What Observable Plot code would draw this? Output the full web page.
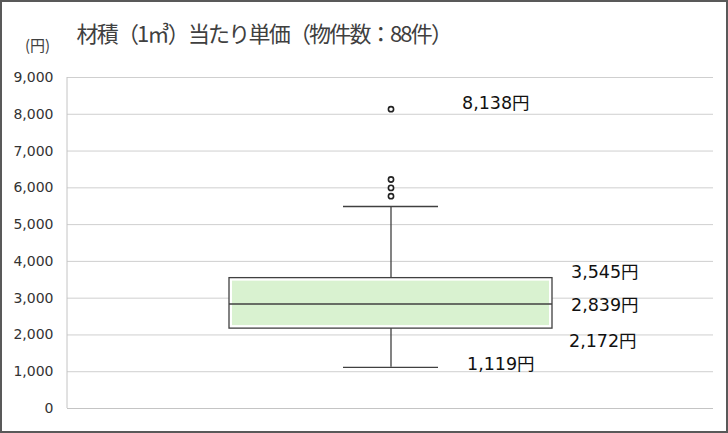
<!DOCTYPE html>
<html>
<head>
<meta charset="utf-8">
<script src="https://cdn.jsdelivr.net/npm/d3@7"></script>
<script src="https://cdn.jsdelivr.net/npm/@observablehq/plot@0.6"></script>
<style>
  body { margin: 0; background: #fff; }
  #chart svg { outline: 2px solid #595959; outline-offset: -2px; display: block; }
</style>
</head>
<body>
<div id="chart"></div>
<script>
// ---- data ----
const categories = ["材積"];
const q1Values = [2172];
const medianValues = [2839];
const q3Values = [3545];
const whiskerLowValues = [1119];
const whiskerHighValues = [5492];
const outlierValues = [8138, 6226, 5998, 5772];
const yTicks = [0, 1000, 2000, 3000, 4000, 5000, 6000, 7000, 8000, 9000];
const titleText = "材積（1㎥）当たり単価（物件数：88件）";
const unitText = "(円)";

const boxes = categories.map((c, i) => ({
  cat: c, q1: q1Values[i], median: medianValues[i], q3: q3Values[i],
  lo: whiskerLowValues[i], hi: whiskerHighValues[i]
}));
const outliers = outlierValues.map(v => ({cat: categories[0], v}));
const fmt = v => d3.format(",")(v) + "円";

const dark = "#404040";
const labelFont = {fontFamily: "DejaVu Sans, Noto Sans CJK JP", fontSize: 17.5, fill: "#111", textAnchor: "start"};
const lbl = (val, dx, dy) => Plot.text([{cat: categories[0], v: val}], {x: "cat", y: "v", text: d => fmt(d.v), dx, dy, ...labelFont});

const leftLine = (index, scales, values, dims) => {
  const g = document.createElementNS("http://www.w3.org/2000/svg", "line");
  g.setAttribute("x1", dims.marginLeft); g.setAttribute("x2", dims.marginLeft);
  g.setAttribute("y1", scales.y(yTicks[yTicks.length - 1])); g.setAttribute("y2", scales.y(0));
  g.setAttribute("stroke", "#c4c4c4");
  return g;
};

const chart = Plot.plot({
  width: 728,
  height: 433,
  marginLeft: 67,
  marginRight: 15,
  marginTop: 77,
  marginBottom: 25,
  style: {fontFamily: "DejaVu Sans, Noto Sans CJK JP", fontSize: "14px", color: "#333", background: "#fff"},
  x: {domain: categories, padding: 1/3, axis: null},
  y: {domain: [0, 9000], ticks: yTicks, tickFormat: d3.format(","), label: null},
  marks: [
    Plot.gridY(yTicks.filter(t => t > 0), {stroke: "#cfcfcf", strokeOpacity: 1}),
    Plot.ruleY([0], {stroke: "#c4c4c4"}),
    leftLine,
    Plot.axisY({ticks: yTicks, tickSize: 0, tickPadding: 14, fontSize: 14, label: null, tickFormat: d3.format(",")}),
    // whiskers
    Plot.ruleX(boxes, {x: "cat", y1: "q3", y2: "hi", stroke: dark, strokeWidth: 1.3}),
    Plot.ruleX(boxes, {x: "cat", y1: "lo", y2: "q1", stroke: dark, strokeWidth: 1.3}),
    Plot.tickY(boxes, {x: "cat", y: "hi", stroke: dark, strokeWidth: 1.3, insetLeft: 114, insetRight: 114}),
    Plot.tickY(boxes, {x: "cat", y: "lo", stroke: dark, strokeWidth: 1.3, insetLeft: 114, insetRight: 114}),
    // box
    Plot.barY(boxes, {x: "cat", y1: "q1", y2: "q3", fill: "#fff", stroke: dark, strokeWidth: 1.3}),
    Plot.barY(boxes, {x: "cat", y1: "q1", y2: "q3", fill: "#d9f2d0", inset: 3}),
    Plot.tickY(boxes, {x: "cat", y: "median", stroke: dark, strokeWidth: 1.5}),
    // outliers
    Plot.dot(outliers, {x: "cat", y: "v", r: 2.6, fill: "#fff", stroke: "#222", strokeWidth: 1.6}),
    // value labels
    lbl(outlierValues[0], 71, -6),
    lbl(q3Values[0], 180, -6),
    lbl(medianValues[0], 180, 1),
    lbl(q1Values[0], 178, 13),
    lbl(whiskerLowValues[0], 76, -3),
    // title and unit
    Plot.text([titleText], {frameAnchor: "top-left", dx: 9, dy: -51, textAnchor: "start", fontSize: 22, fill: "#404040", fontFamily: "Noto Sans CJK JP"}),
    Plot.text([unitText], {frameAnchor: "top-left", dx: -30, dy: -37, textAnchor: "middle", fontSize: 15, fill: "#404040", fontFamily: "Noto Sans CJK JP"})
  ]
});
d3.select(chart).selectAll("text")
  .filter(function () { return this.textContent === titleText; })
  .attr("letter-spacing", "-1.8");
document.getElementById("chart").append(chart);
</script>
</body>
</html>
